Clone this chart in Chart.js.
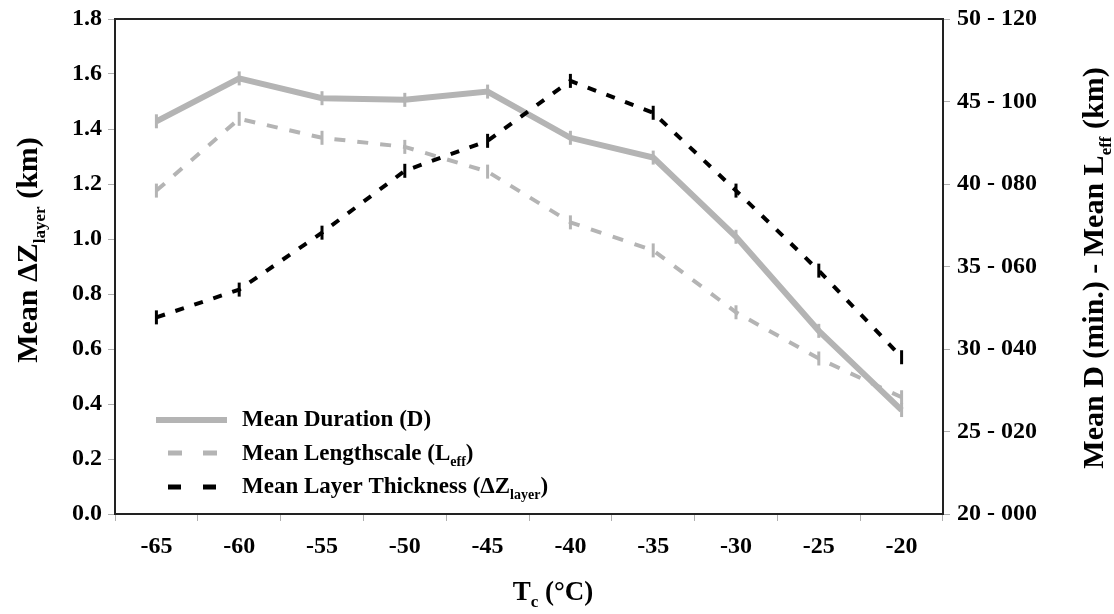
<!DOCTYPE html>
<html>
<head>
<meta charset="utf-8">
<script src="https://cdn.jsdelivr.net/npm/chart.js@4/dist/chart.umd.min.js"></script>
<style>
  html, body { margin: 0; padding: 0; background: #fff; }
  #wrap { width: 1114px; height: 614px; }
</style>
</head>
<body>
<div id="wrap"><canvas id="c" width="1114" height="614"></canvas></div>
<script>
// ---- data ----
const categories = ['-65', '-60', '-55', '-50', '-45', '-40', '-35', '-30', '-25', '-20'];
const durationD = [43.8, 46.4, 45.2, 45.1, 45.6, 42.8, 41.6, 36.8, 31.1, 26.3];       // minutes (right axis, first number)
const lengthscaleL = [78.4, 95.8, 91.2, 89.0, 83.0, 70.7, 63.9, 48.9, 37.7, 28.3];    // km (right axis, second number)
const layerThickness = [0.715, 0.816, 1.023, 1.248, 1.357, 1.575, 1.459, 1.176, 0.885, 0.570]; // km (left axis)
const rightTickLabels = ['20 - 000', '25 - 020', '30 - 040', '35 - 060', '40 - 080', '45 - 100', '50 - 120'];

const SERIF = '"Liberation Serif", "DejaVu Serif", serif';
const GREY = '#b4b4b4';

function fontStr(size) { return 'bold ' + size + 'px ' + SERIF; }

function richWidth(ctx, segs, size, subSize) {
  let w = 0;
  segs.forEach(s => { ctx.font = fontStr(s.sub ? subSize : size); w += ctx.measureText(s.t).width; });
  return w;
}
function drawRich(ctx, segs, x, y, size, subSize, align) {
  const w = richWidth(ctx, segs, size, subSize);
  let cx = align === 'center' ? x - w / 2 : x;
  ctx.textBaseline = 'alphabetic';
  ctx.textAlign = 'left';
  segs.forEach(s => {
    ctx.font = fontStr(s.sub ? subSize : size);
    ctx.fillText(s.t, cx, s.sub ? y + size * 0.26 : y);
    cx += ctx.measureText(s.t).width;
  });
}

const decorPlugin = {
  id: 'decor',
  afterDraw(chart) {
    const ctx = chart.ctx;
    const a = chart.chartArea;
    ctx.save();
    // frame
    ctx.strokeStyle = '#222';
    ctx.lineWidth = 2;
    ctx.strokeRect(a.left, a.top, a.right - a.left, a.bottom - a.top);

    ctx.fillStyle = '#000';
    // x title
    drawRich(ctx, [{t: 'T'}, {t: 'c', sub: true}, {t: ' (°C)'}], 553, 600, 27, 17, 'center');

    // left title
    ctx.save();
    ctx.translate(37, 250);
    ctx.rotate(-Math.PI / 2);
    drawRich(ctx, [{t: 'Mean ΔZ'}, {t: 'layer', sub: true}, {t: ' (km)'}], 0, 0, 30, 17, 'center');
    ctx.restore();

    // right title
    ctx.save();
    ctx.translate(1103, 268);
    ctx.rotate(-Math.PI / 2);
    drawRich(ctx, [{t: 'Mean D (min.) - Mean L'}, {t: 'eff', sub: true}, {t: ' (km)'}], 0, 0, 30, 17, 'center');
    ctx.restore();

    // legend
    const items = [
      {segs: [{t: 'Mean Duration (D)'}], color: GREY, width: 6, dash: [], x0: 156, x1: 227, y: 420, base: 426},
      {segs: [{t: 'Mean Lengthscale (L'}, {t: 'eff', sub: true}, {t: ')'}], color: GREY, width: 5, dash: [14, 21], x0: 168, x1: 219, y: 453, base: 460},
      {segs: [{t: 'Mean Layer Thickness (ΔZ'}, {t: 'layer', sub: true}, {t: ')'}], color: '#000', width: 5, dash: [13, 22], x0: 168, x1: 218, y: 487, base: 493}
    ];
    items.forEach(it => {
      ctx.save();
      ctx.strokeStyle = it.color;
      ctx.lineWidth = it.width;
      ctx.setLineDash(it.dash);
      ctx.beginPath();
      ctx.moveTo(it.x0, it.y);
      ctx.lineTo(it.x1, it.y);
      ctx.stroke();
      ctx.restore();
      ctx.fillStyle = '#000';
      drawRich(ctx, it.segs, 242, it.base, 23, 14, 'left');
    });
    ctx.restore();
  }
};

const tickFont = { family: SERIF, size: 24, weight: 'bold', lineHeight: 1 };

new Chart(document.getElementById('c'), {
  type: 'line',
  data: {
    labels: categories,
    datasets: [
      {
        label: 'Mean Layer Thickness',
        data: layerThickness,
        yAxisID: 'y',
        order: 0,
        borderColor: '#000',
        borderWidth: 4,
        borderDash: [9, 11],
        pointStyle: 'line',
        rotation: 90,
        pointRadius: 7,
        pointBorderWidth: 3,
        pointBorderColor: '#000',
        pointBackgroundColor: '#000',
        fill: false,
        tension: 0
      },
      {
        label: 'Mean Duration (D)',
        data: durationD,
        yAxisID: 'y2',
        order: 1,
        borderColor: GREY,
        borderWidth: 6,
        pointStyle: 'line',
        rotation: 90,
        pointRadius: 7,
        pointBorderWidth: 3,
        pointBorderColor: GREY,
        pointBackgroundColor: GREY,
        fill: false,
        tension: 0
      },
      {
        label: 'Mean Lengthscale (Leff)',
        data: lengthscaleL,
        yAxisID: 'y3',
        order: 2,
        borderColor: GREY,
        borderWidth: 4,
        borderDash: [11, 12],
        pointStyle: 'line',
        rotation: 90,
        pointRadius: 7,
        pointBorderWidth: 3,
        pointBorderColor: GREY,
        pointBackgroundColor: GREY,
        fill: false,
        tension: 0
      }
    ]
  },
  options: {
    responsive: false,
    animation: false,
    devicePixelRatio: 1,
    layout: { padding: { top: 17, left: 0, right: 0, bottom: 0 } },
    plugins: { legend: { display: false }, tooltip: { enabled: false }, title: { display: false } },
    scales: {
      x: {
        type: 'category',
        offset: true,
        grid: { offset: true, drawOnChartArea: false, color: '#b0b0b0', tickLength: 7 },
        border: { color: '#222', width: 2 },
        ticks: { font: tickFont, color: '#000', padding: 14, maxRotation: 0 },
        afterFit(s) { s.height = 100; }
      },
      y: {
        position: 'left',
        min: 0, max: 1.8,
        grid: { drawOnChartArea: false, color: '#b0b0b0', tickLength: 7 },
        border: { color: '#222', width: 2 },
        ticks: { stepSize: 0.2, font: tickFont, color: '#000', padding: 6,
                 callback: v => Number(v).toFixed(1) },
        afterFit(s) { s.width = 115; }
      },
      y2: {
        position: 'right',
        min: 20, max: 50,
        grid: { drawOnChartArea: false, color: '#b0b0b0', tickLength: 7 },
        border: { color: '#222', width: 2 },
        ticks: { stepSize: 5, font: tickFont, color: '#000', padding: 7,
                 callback: (v, i) => rightTickLabels[i] },
        afterFit(s) { s.width = 171; }
      },
      y3: {
        display: false,
        min: 0, max: 120
      }
    }
  },
  plugins: [decorPlugin]
});
</script>
</body>
</html>
